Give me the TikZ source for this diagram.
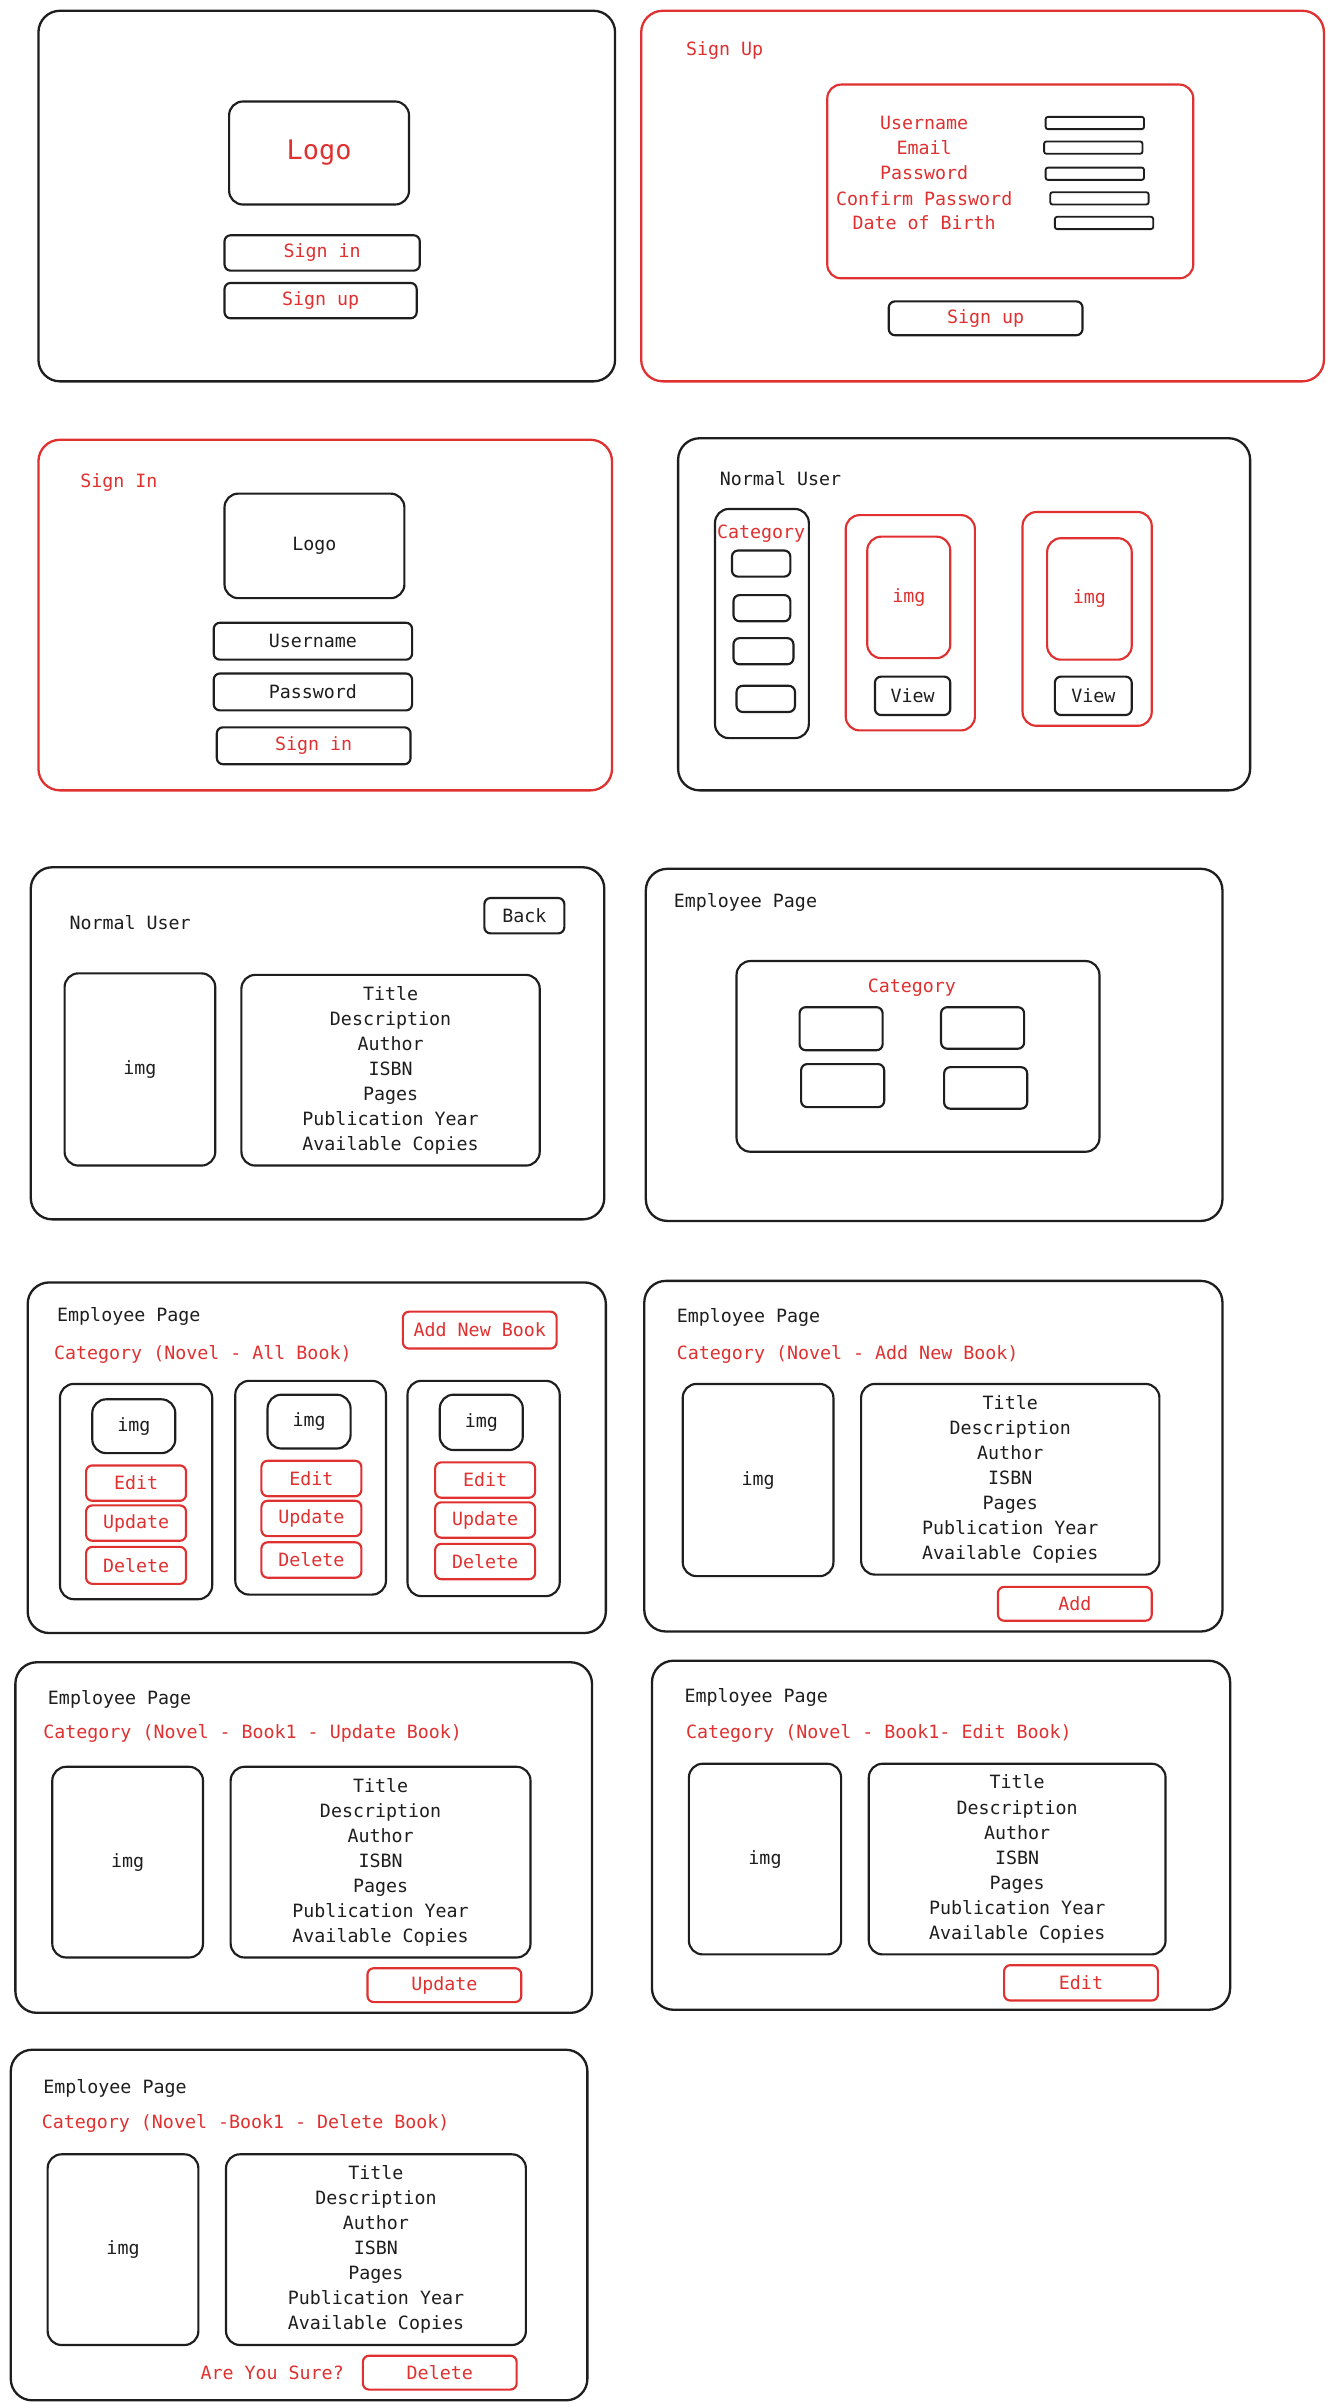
\documentclass[tikz,border=0pt]{standalone}
\usepackage{fontspec}
\setmonofont{DejaVu Sans Mono}
\usetikzlibrary{fit}
\definecolor{ink}{HTML}{1E1E1E}
\definecolor{rd}{HTML}{E03131}
\newcommand\ubox[8]{\node[#2, fit={(#3,#4)(#5,#6)}, inner sep=0pt] (#1) {};
  \node[#7] (#1-t) at (#1.center) {#8};}
\tikzset{
  base/.style={font={\ttfamily\fontsize{11.9}{16.3}\selectfont}},
  frame/.style={draw=ink, line width=1.5pt, rounded corners=14pt},
  rframe/.style={frame, draw=rd},
  box/.style={draw=ink, line width=1.4pt, rounded corners=9pt},
  rbox/.style={box, draw=rd},
  btn/.style={draw=ink, line width=1.4pt, rounded corners=4pt},
  rbtn/.style={btn, draw=rd},
  field/.style={draw=ink, line width=1.2pt, rounded corners=1.5pt},
  txt/.style={base, text=ink, inner sep=0pt, align=center},
  rtxt/.style={txt, text=rd},
}
\begin{document}
\begin{tikzpicture}[x=1pt,y=-1pt]
\useasboundingbox[fill=white] (0,0) rectangle (866,1566);

% ---- Frame A: start
\ubox{fA}{frame}{25}{7}{400}{248}{txt}{}
\ubox{fAlogo}{box}{149}{66}{266}{133}{rtxt, font={\ttfamily\fontsize{17.5}{20}\selectfont}}{Logo}
\ubox{fAsi}{btn}{146}{153}{273}{176}{rtxt}{Sign in}
\ubox{fAsu}{btn}{146}{184}{271}{207}{rtxt}{Sign up}

% ---- Frame B: sign up
\ubox{fB}{rframe}{417}{7}{861}{248}{txt}{}
\node[rtxt, anchor=west] (fBt) at (446,33) {Sign Up};
\ubox{fBin}{rbox}{538}{55}{776}{181}{txt}{}
\node[rtxt] (fBl1) at (601,80) {Username};
\node[rtxt] (fBl2) at (601,96) {Email};
\node[rtxt] (fBl3) at (601,112) {Password};
\node[rtxt] (fBl4) at (601,129) {Confirm Password};
\node[rtxt] (fBl5) at (601,145) {Date of Birth};
\ubox{fBf1}{field}{680}{76}{744}{84}{txt}{}
\ubox{fBf2}{field}{679}{92}{743}{100}{txt}{}
\ubox{fBf3}{field}{680}{109}{744}{117}{txt}{}
\ubox{fBf4}{field}{683}{125}{747}{133}{txt}{}
\ubox{fBf5}{field}{686}{141}{750}{149}{txt}{}
\ubox{fBsu}{btn}{578}{196}{704}{218}{rtxt}{Sign up}

% ---- Frame C: sign in
\ubox{fC}{rframe}{25}{286}{398}{514}{txt}{}
\node[rtxt, anchor=west] (fCt) at (52,314) {Sign In};
\ubox{fClogo}{box}{146}{321}{263}{389}{txt}{Logo}
\ubox{fCu}{btn}{139}{405}{268}{429}{txt}{Username}
\ubox{fCp}{btn}{139}{438}{268}{462}{txt}{Password}
\ubox{fCs}{btn}{141}{473}{267}{497}{rtxt}{Sign in}

% ---- Frame D: normal user list
\ubox{fD}{frame}{441}{285}{813}{514}{txt}{}
\node[txt, anchor=west] (fDt) at (468,311) {Normal User};
\ubox{fDcat}{box}{465}{331}{526}{480}{txt}{}
\node[rtxt] (fDct) at (495,347) {Category};
\ubox{fDc1}{btn}{476}{358}{514}{375}{txt}{}
\ubox{fDc2}{btn}{477}{387}{514}{404}{txt}{}
\ubox{fDc3}{btn}{477}{415}{516}{432}{txt}{}
\ubox{fDc4}{btn}{479}{446}{517}{463}{txt}{}
\ubox{fDk1}{rbox}{550}{335}{634}{475}{txt}{}
\ubox{fDi1}{rbox}{564}{349}{618}{428}{rtxt}{img}
\ubox{fDv1}{btn}{569}{440}{618}{465}{txt}{View}
\ubox{fDk2}{rbox}{665}{333}{749}{472}{txt}{}
\ubox{fDi2}{rbox}{681}{350}{736}{429}{rtxt}{img}
\ubox{fDv2}{btn}{686}{440}{736}{465}{txt}{View}

% ---- Frame E: normal user detail
\ubox{fE}{frame}{20}{564}{393}{793}{txt}{}
\node[txt, anchor=west] (fEt) at (45,600) {Normal User};
\ubox{fEb}{btn}{315}{584}{367}{607}{txt}{Back}
\ubox{fEi}{box}{42}{633}{140}{758}{txt}{img}
\ubox{fEd}{box}{157}{634}{351}{758}{txt}{Title\\Description\\Author\\ISBN\\Pages\\Publication Year\\Available Copies}

% ---- Frame F: employee categories
\ubox{fF}{frame}{420}{565}{795}{794}{txt}{}
\node[txt, anchor=west] (fFt) at (438,587) {Employee Page};
\ubox{fFin}{box}{479}{625}{715}{749}{txt}{}
\node[rtxt] (fFct) at (593,642) {Category};
\ubox{fFc1}{btn}{520}{655}{574}{683}{txt}{}
\ubox{fFc2}{btn}{612}{655}{666}{682}{txt}{}
\ubox{fFc3}{btn}{521}{692}{575}{720}{txt}{}
\ubox{fFc4}{btn}{614}{694}{668}{721}{txt}{}

% ---- Frame G: all books
\ubox{fG}{frame}{18}{834}{394}{1062}{txt}{}
\node[txt, anchor=west] (fGt) at (37,856) {Employee Page};
\ubox{fGadd}{rbtn}{262}{853}{362}{877}{rtxt}{Add New Book}
\node[rtxt, anchor=west] (fGc) at (35,881) {Category (Novel - All Book)};
\ubox{fGk1}{box}{39}{900}{138}{1040}{txt}{}
\ubox{fGk2}{box}{153}{898}{251}{1037}{txt}{}
\ubox{fGk3}{box}{265}{898}{364}{1038}{txt}{}
\ubox{fGi1}{box}{60}{910}{114}{945}{txt}{img}
\ubox{fGi2}{box}{174}{907}{228}{942}{txt}{img}
\ubox{fGi3}{box}{286}{907}{340}{943}{txt}{img}
\ubox{fGe1}{rbtn}{56}{953}{121}{976}{rtxt}{Edit}
\ubox{fGe2}{rbtn}{170}{950}{235}{973}{rtxt}{Edit}
\ubox{fGe3}{rbtn}{283}{951}{348}{974}{rtxt}{Edit}
\ubox{fGu1}{rbtn}{56}{979}{121}{1002}{rtxt}{Update}
\ubox{fGu2}{rbtn}{170}{976}{235}{999}{rtxt}{Update}
\ubox{fGu3}{rbtn}{283}{977}{348}{1000}{rtxt}{Update}
\ubox{fGd1}{rbtn}{56}{1006}{121}{1030}{rtxt}{Delete}
\ubox{fGd2}{rbtn}{170}{1003}{235}{1026}{rtxt}{Delete}
\ubox{fGd3}{rbtn}{283}{1004}{348}{1027}{rtxt}{Delete}

% ---- Frame H: add new book
\ubox{fH}{frame}{419}{833}{795}{1061}{txt}{}
\node[txt, anchor=west] (fHt) at (440,857) {Employee Page};
\node[rtxt, anchor=west] (fHc) at (440,881) {Category (Novel - Add New Book)};
\ubox{fHi}{box}{444}{900}{542}{1025}{txt}{img}
\ubox{fHd}{box}{560}{900}{754}{1024}{txt}{Title\\Description\\Author\\ISBN\\Pages\\Publication Year\\Available Copies}
\ubox{fHb}{rbtn}{649}{1032}{749}{1054}{rtxt}{Add}

% ---- Frame I: update book
\ubox{fI}{frame}{10}{1081}{385}{1309}{txt}{}
\node[txt, anchor=west] (fIt) at (31,1105) {Employee Page};
\node[rtxt, anchor=west] (fIc) at (28,1127) {Category (Novel - Book1 - Update Book)};
\ubox{fIi}{box}{34}{1149}{132}{1273}{txt}{img}
\ubox{fId}{box}{150}{1149}{345}{1273}{txt}{Title\\Description\\Author\\ISBN\\Pages\\Publication Year\\Available Copies}
\ubox{fIb}{rbtn}{239}{1280}{339}{1302}{rtxt}{Update}

% ---- Frame J: edit book
\ubox{fJ}{frame}{424}{1080}{800}{1307}{txt}{}
\node[txt, anchor=west] (fJt) at (445,1104) {Employee Page};
\node[rtxt, anchor=west] (fJc) at (446,1127) {Category (Novel - Book1- Edit Book)};
\ubox{fJi}{box}{448}{1147}{547}{1271}{txt}{img}
\ubox{fJd}{box}{565}{1147}{758}{1271}{txt}{Title\\Description\\Author\\ISBN\\Pages\\Publication Year\\Available Copies}
\ubox{fJb}{rbtn}{653}{1278}{753}{1301}{rtxt}{Edit}

% ---- Frame K: delete book
\ubox{fK}{frame}{7}{1333}{382}{1561}{txt}{}
\node[txt, anchor=west] (fKt) at (28,1358) {Employee Page};
\node[rtxt, anchor=west] (fKc) at (27,1381) {Category (Novel -Book1 - Delete Book)};
\ubox{fKi}{box}{31}{1401}{129}{1525}{txt}{img}
\ubox{fKd}{box}{147}{1401}{342}{1525}{txt}{Title\\Description\\Author\\ISBN\\Pages\\Publication Year\\Available Copies}
\node[rtxt] (fKq) at (177,1543) {Are You Sure?};
\ubox{fKb}{rbtn}{236}{1532}{336}{1554}{rtxt}{Delete}
\end{tikzpicture}
\end{document}
